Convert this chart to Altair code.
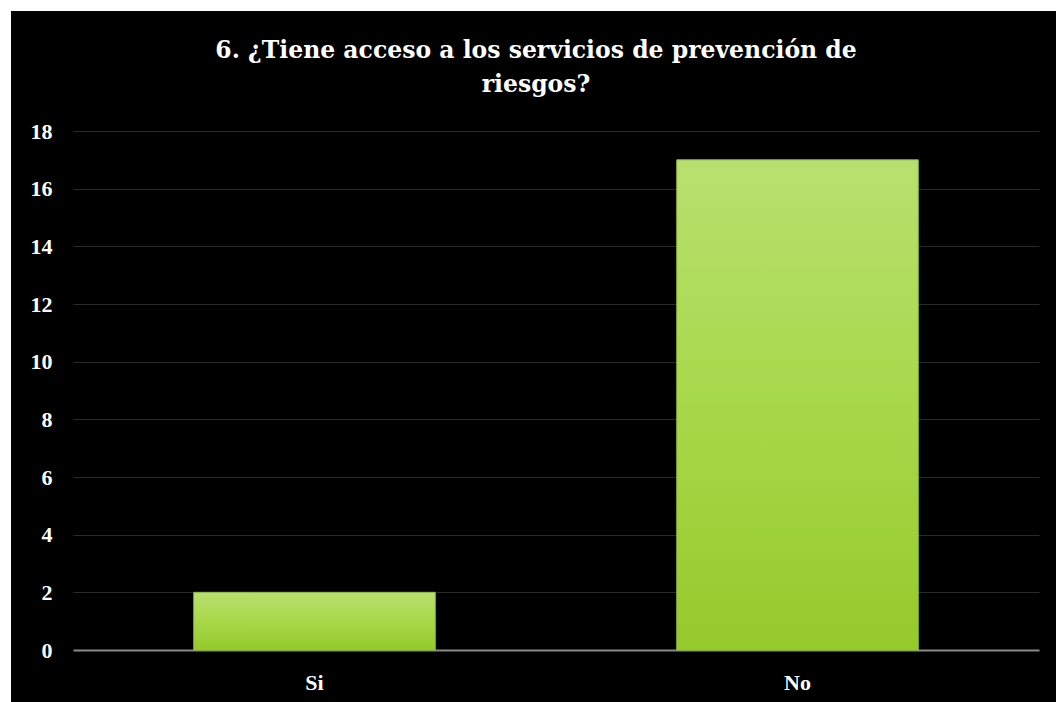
import altair as alt
import pandas as pd

categories = ["Si", "No"]
values = [2, 17]
title_lines = ["6. ¿Tiene acceso a los servicios de prevención de", "riesgos?"]

df = pd.DataFrame({"respuesta": categories, "valor": values})

W, H = 966, 519
PL, PT, PR, PB = 73, 131, 17, 52
FONT = "Liberation Serif"

bars = alt.Chart(df).mark_bar(
    color=alt.Gradient(
        gradient="linear",
        stops=[
            alt.GradientStop(color="#b8e070", offset=0),
            alt.GradientStop(color="#a8d84a", offset=0.5),
            alt.GradientStop(color="#96c92c", offset=1),
        ],
        x1=0, x2=0, y1=0, y2=1,
    ),
    stroke="#8fbf35",
    strokeWidth=1,
).encode(
    x=alt.X(
        "respuesta:N",
        sort=categories,
        scale=alt.Scale(paddingInner=0.5, paddingOuter=0.25),
        axis=alt.Axis(
            title=None, labelAngle=0, labelFont=FONT, labelFontSize=22,
            labelFontWeight="bold", labelColor="white", labelPadding=22,
            ticks=False, tickSize=0, domain=True, domainColor="#8a8a8a",
            domainWidth=2, grid=False,
        ),
    ),
    y=alt.Y(
        "valor:Q",
        scale=alt.Scale(domain=[0, 18], nice=False),
        axis=alt.Axis(
            title=None, values=list(range(0, 19, 2)), labelFont=FONT,
            labelFontSize=22, labelFontWeight="bold", labelColor="white",
            labelPadding=21, ticks=False, tickSize=0, domain=False,
            grid=True, gridColor="#2a2a2a", gridWidth=1.2,
        ),
    ),
)

one = pd.DataFrame({"k": [0]})
left_strip = alt.Chart(one).mark_rect(color="white").encode(
    x=alt.value(-PL), x2=alt.value(-PL + 11),
    y=alt.value(-PT), y2=alt.value(H + PB),
)
top_strip = alt.Chart(one).mark_rect(color="white").encode(
    x=alt.value(-PL), x2=alt.value(W + PR),
    y=alt.value(-PT), y2=alt.value(-PT + 11),
)
title = alt.Chart(one).mark_text(
    text=title_lines, font="DejaVu Serif", fontSize=23.5, fontWeight="bold",
    color="white", align="center", baseline="alphabetic", lineHeight=34,
).encode(
    x=alt.value(536 - PL), y=alt.value(58 - PT),
)

chart = alt.layer(bars, left_strip, top_strip, title).properties(
    width=W,
    height=H,
    background="black",
    padding={"left": PL, "top": PT, "right": PR, "bottom": PB},
    autosize=alt.AutoSizeParams(type="none"),
).configure_view(stroke=None)

chart.save("out.html", embed_options={"renderer": "svg", "actions": False})
